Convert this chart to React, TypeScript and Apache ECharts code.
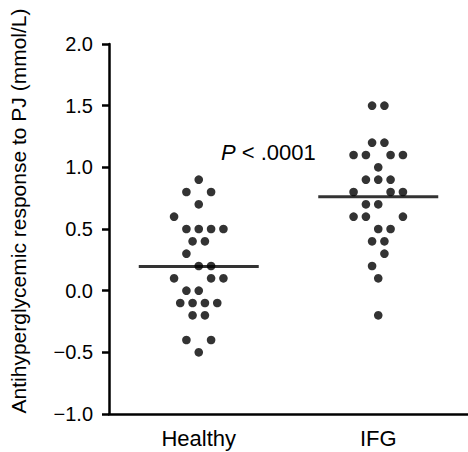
import React, { useEffect, useRef } from "react";
import * as echarts from "echarts";

const categories = ["Healthy", "IFG"];

const healthyValues = [
  0.9, 0.8, 0.8, 0.7, 0.6, 0.5, 0.5, 0.5, 0.5, 0.4, 0.4, 0.3, 0.2, 0.2,
  0.1, 0.1, 0.1, 0.0, 0.0, -0.1, -0.1, -0.1, -0.1, -0.2, -0.2, -0.4, -0.4, -0.5,
];
const ifgValues = [
  1.5, 1.5, 1.2, 1.2, 1.1, 1.1, 1.1, 1.1, 1.0, 0.9, 0.9, 0.9, 0.8, 0.8,
  0.8, 0.7, 0.7, 0.6, 0.6, 0.6, 0.5, 0.5, 0.4, 0.4, 0.3, 0.2, 0.1, -0.2,
];

// swarm slot index of each dot (half-steps left/right of the category centre)
const healthySlots = [
  0, -2, 2, 0, -4, -2, 0, 2, 4, -1, 1, -2, 0, 2,
  -4, 2, 4, -2, 0, -3, -1, 1, 3, -1, 1, -2, 2, 0,
];
const ifgSlots = [
  -1, 1, -1, 1, -4, -2, 2, 4, 0, -2, 0, 2, -4, 2,
  4, -2, 0, -4, -2, 4, 0, 2, -1, 1, 1, -1, 0, 0,
];

const yTicks = [-1.0, -0.5, 0.0, 0.5, 1.0, 1.5, 2.0];
const yName = "Antihyperglycemic response to PJ (mmol/L)";
const pText = "P < .0001";

const FONT = "'Liberation Sans', Arial, Helvetica, sans-serif";
const SLOT_PX = 6.17;

const mean = (a: number[]) => a.reduce((s, v) => s + v, 0) / a.length;

export default function App() {
  const ref = useRef<HTMLDivElement>(null);
  useEffect(() => {
    if (!ref.current) return;
    const chart = echarts.init(ref.current, null, { renderer: "svg" });
    const groups = [
      { values: healthyValues, slots: healthySlots },
      { values: ifgValues, slots: ifgSlots },
    ];
    const dots: any[] = [];
    groups.forEach((g, ci) => {
      g.values.forEach((v, k) => {
        dots.push({ value: [ci, v], symbolOffset: [g.slots[k] * SLOT_PX, 0] });
      });
    });
    const means = groups.map((g, ci) => [ci, mean(g.values)]);
    const pParts = pText.split(" ");
    chart.setOption({
      animation: false,
      backgroundColor: "#ffffff",
      grid: { left: 109, top: 44, width: 360, height: 370, containLabel: false },
      xAxis: {
        type: "category",
        data: categories,
        boundaryGap: true,
        axisLine: { onZero: false, lineStyle: { color: "#000", width: 2.5 } },
        axisTick: { alignWithLabel: true, length: 7, lineStyle: { color: "#000", width: 2.5 } },
        axisLabel: { color: "#000", fontSize: 22, fontFamily: FONT, margin: 13 },
        splitLine: { show: false },
      },
      yAxis: {
        type: "value",
        min: yTicks[0],
        max: yTicks[yTicks.length - 1],
        interval: 0.5,
        axisLine: { show: true, lineStyle: { color: "#000", width: 2.5 } },
        axisTick: { show: true, length: 7, lineStyle: { color: "#000", width: 2.5 } },
        axisLabel: {
          color: "#000",
          fontSize: 20,
          fontFamily: FONT,
          margin: 16,
          formatter: (v: number) => (v < 0 ? "\u2212" + Math.abs(v).toFixed(1) : v.toFixed(1)),
        },
        splitLine: { show: false },
      },
      series: [
        {
          type: "scatter",
          data: means,
          symbol: "rect",
          symbolSize: [120, 3],
          itemStyle: { color: "#000" },
          z: 2,
          silent: true,
        },
        {
          type: "scatter",
          data: dots,
          symbol: "circle",
          symbolSize: 8.6,
          itemStyle: { color: "#000" },
          z: 3,
          silent: true,
        },
      ],
      graphic: [
        {
          type: "text",
          x: 18,
          y: 211,
          rotation: Math.PI / 2,
          style: {
            text: yName,
            fill: "#000",
            font: `21px ${FONT}`,
            textAlign: "center",
            textVerticalAlign: "middle",
          },
        },
        {
          type: "text",
          left: 221,
          top: 141,
          style: {
            text: "{i|" + pParts[0] + "} " + pParts.slice(1).join(" "),
            fill: "#000",
            font: `22px ${FONT}`,
            rich: {
              i: { fontStyle: "italic", fontSize: 22, fontFamily: FONT, fill: "#000" },
            },
          },
        },
      ],
    });
    return () => chart.dispose();
  }, []);
  return (
    <div
      ref={ref}
      style={{ position: "fixed", left: 0, top: 0, width: 468, height: 452, background: "#fff" }}
    />
  );
}
